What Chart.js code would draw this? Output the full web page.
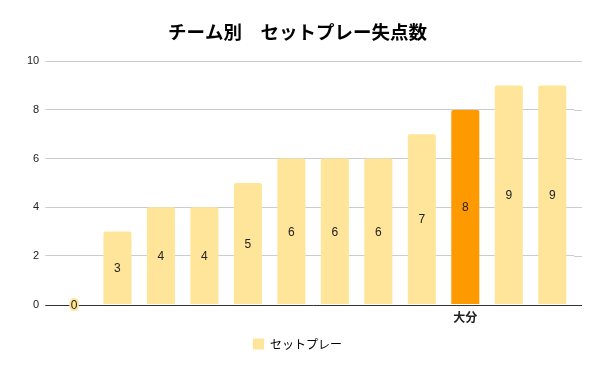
<!DOCTYPE html>
<html>
<head>
<meta charset="utf-8">
<script src="https://cdn.jsdelivr.net/npm/chart.js@4/dist/chart.umd.min.js"></script>
<style>
  html, body { margin: 0; padding: 0; background: #fff; }
  #wrap { width: 600px; height: 371px; }
</style>
</head>
<body>
<div id="wrap"><canvas id="bar-chart"></canvas></div>
<script>
var teams = ['', '', '', '', '', '', '', '', '', '大分', '', ''];
var goalsAgainst = [0, 3, 4, 4, 5, 6, 6, 6, 7, 8, 9, 9];
var highlightTeam = '大分';
var yTicks = [0, 2, 4, 6, 8, 10];

var jpFont = "'Noto Sans CJK JP', 'Noto Sans', sans-serif";
var numFont = "'Liberation Sans', Arial, sans-serif";

var barColors = teams.map(function(t){
    return t === highlightTeam ? '#ff9900' : '#ffe599';
});

// draws the value in the middle of each bar (0 sits on the baseline with a yellow halo)
var valueLabels = {
    id: 'valueLabels',
    afterDatasetsDraw: function(chart){
        var ctx = chart.ctx;
        var meta = chart.getDatasetMeta(0);
        ctx.save();
        ctx.font = '12px ' + numFont;
        ctx.textAlign = 'center';
        ctx.textBaseline = 'middle';
        meta.data.forEach(function(bar, i){
            var v = goalsAgainst[i];
            var y = (bar.y + bar.base) / 2;
            if (v === 0) {
                y = bar.base;
                ctx.strokeStyle = barColors[i];
                ctx.lineWidth = 4;
                ctx.lineJoin = 'round';
                ctx.strokeText(String(v), bar.x, y + 1);
            }
            ctx.fillStyle = '#222';
            ctx.fillText(String(v), bar.x, y + 1);
        });
        ctx.restore();
    }
};

// grid lines and baseline run a bit past the bars on both sides
var extendLines = {
    id: 'extendLines',
    beforeDatasetsDraw: function(chart){
        var ctx = chart.ctx, a = chart.chartArea, y = chart.scales.y;
        ctx.save();
        ctx.lineWidth = 1;
        ctx.strokeStyle = '#cccccc';
        yTicks.forEach(function(v){
            if (v === 0) return;
            var py = Math.round(y.getPixelForValue(v)) + 0.5;
            ctx.beginPath();
            ctx.moveTo(a.right, py);
            ctx.lineTo(a.right + 8, py);
            ctx.stroke();
        });
        ctx.restore();
    },
    afterDatasetsDraw: function(chart){
        var ctx = chart.ctx, a = chart.chartArea, y = chart.scales.y;
        var py = Math.round(y.getPixelForValue(0)) + 0.5;
        ctx.save();
        ctx.lineWidth = 1;
        ctx.strokeStyle = '#333';
        ctx.beginPath();
        ctx.moveTo(a.left - 7, py);
        ctx.lineTo(a.right + 8, py);
        ctx.stroke();
        ctx.restore();
    }
};

var ctx = document.getElementById('bar-chart').getContext('2d');
var myChart = new Chart(ctx, {
    type: 'bar',
    data: {
        labels: teams,
        datasets: [{
            label: 'セットプレー',
            data: goalsAgainst,
            backgroundColor: barColors,
            borderRadius: { topLeft: 2, topRight: 2 },
            borderSkipped: 'bottom',
            barPercentage: 0.645,
            categoryPercentage: 1
        }]
    },
    options: {
        responsive: true,
        maintainAspectRatio: false,
        animation: false,
        layout: { padding: { left: 21, right: 26, top: 0, bottom: 11 } },
        plugins: {
            title: {
                display: true,
                text: 'チーム別　セットプレー失点数',
                color: '#000',
                font: { family: jpFont, size: 18.5, weight: 'bold' },
                padding: { top: 21, bottom: 18 }
            },
            legend: {
                position: 'bottom',
                labels: {
                    color: '#222',
                    font: { family: jpFont, size: 12 },
                    boxWidth: 11,
                    boxHeight: 11,
                    padding: 15,
                    generateLabels: function(chart){
                        return [{
                            text: 'セットプレー',
                            fillStyle: '#ffe599',
                            strokeStyle: '#ffe599',
                            lineWidth: 0,
                            datasetIndex: 0
                        }];
                    }
                }
            },
            tooltip: { enabled: false }
        },
        scales: {
            x: {
                grid: { display: false },
                border: { display: false },
                ticks: {
                    autoSkip: false,
                    maxRotation: 0,
                    color: '#222',
                    font: { family: jpFont, size: 12, weight: 'bold' },
                    padding: -2
                }
            },
            y: {
                min: 0,
                max: 10,
                afterBuildTicks: function(axis){
                    axis.ticks = yTicks.map(function(v){ return { value: v }; });
                },
                grid: {
                    color: function(c){ return c.tick && c.tick.value === 0 ? 'rgba(0,0,0,0)' : '#cccccc'; },
                    drawTicks: true,
                    tickLength: 7
                },
                border: { display: false },
                ticks: {
                    color: '#222',
                    font: { family: numFont, size: 11 },
                    padding: 6
                }
            }
        }
    },
    plugins: [extendLines, valueLabels]
});
</script>
</body>
</html>
